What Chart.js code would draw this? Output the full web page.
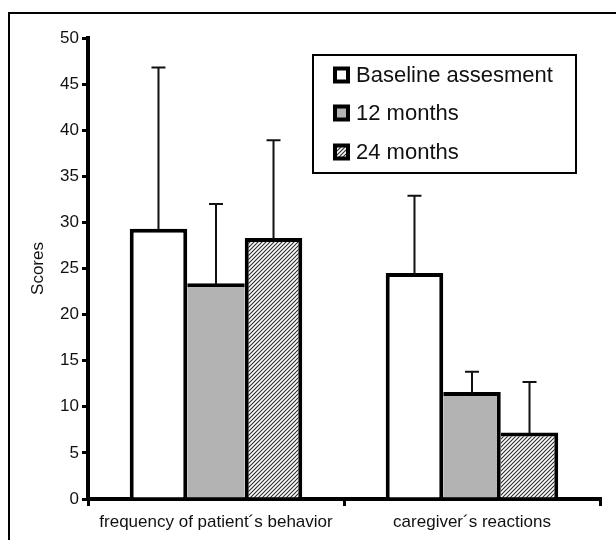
<!DOCTYPE html>
<html>
<head>
<meta charset="utf-8">
<script src="https://cdn.jsdelivr.net/npm/chart.js@4/dist/chart.umd.min.js"></script>
<style>
  html, body { margin: 0; padding: 0; background: #fff; overflow: hidden; }
  #wrap { position: relative; width: 616px; height: 540px; }
  #frame { position: absolute; left: 8px; top: 12px; width: 700px; height: 600px; border: 2px solid #000; box-sizing: border-box; }
  #c { position: absolute; left: 0; top: 0; }
</style>
</head>
<body>
<div id="wrap">
  <div id="frame"></div>
  <canvas id="c" width="616" height="540"></canvas>
</div>
<script>
// Outcome categories and the three assessment waves
const categories = ['frequency of patient\u00b4s behavior', 'caregiver\u00b4s reactions'];
const seriesNames = ['Baseline assesment', '12 months', '24 months'];

// Mean scores per wave
const baseline = [29.3, 24.5];
const months12 = [23.4, 11.6];
const months24 = [28.3, 7.2];

// Standard deviations (drawn as upper error bars)
const baselineSD = [17.5, 8.4];
const months12SD = [8.6, 2.2];
const months24SD = [10.6, 5.5];

// Y axis range
const yMin = 0, yMax = 50, yStep = 5;

const FONT = "'Liberation Sans', Arial, Helvetica, sans-serif";
const values = [baseline, months12, months24];
const errors = [baselineSD, months12SD, months24SD];

const canvas = document.getElementById('c');
const ctx2d = canvas.getContext('2d');

function makeHatch() {
  const s = 4;
  const p = document.createElement('canvas');
  p.width = s; p.height = s;
  const g = p.getContext('2d');
  g.fillStyle = '#fff';
  g.fillRect(0, 0, s, s);
  g.strokeStyle = '#2a2a2a';
  g.lineWidth = 1.1;
  g.beginPath();
  g.moveTo(0, s); g.lineTo(s, 0);
  g.moveTo(-1, 1); g.lineTo(1, -1);
  g.moveTo(s - 1, s + 1); g.lineTo(s + 1, s - 1);
  g.stroke();
  return ctx2d.createPattern(p, 'repeat');
}
const hatch = makeHatch();
const fills = ['#ffffff', '#b3b3b3', hatch];

// Shared edges between neighbouring bars are drawn once, by the taller bar
function edgeWidths(ctx) {
  const i = ctx.datasetIndex, j = ctx.dataIndex;
  const v = values[i][j];
  const prev = i > 0 ? values[i - 1][j] : -Infinity;
  const next = i < values.length - 1 ? values[i + 1][j] : -Infinity;
  return { top: 4, bottom: 0, left: v >= prev ? 4 : 0, right: v > next ? 4 : 0 };
}

const errorBars = {
  id: 'errorBars',
  afterDatasetsDraw(chart) {
    const c = chart.ctx, y = chart.scales.y;
    values.forEach((vals, i) => {
      chart.getDatasetMeta(i).data.forEach((bar, j) => {
        const base = y.getPixelForValue(vals[j]);
        const top = y.getPixelForValue(vals[j] + errors[i][j]);
        c.save();
        c.strokeStyle = '#111';
        c.lineWidth = 2;
        c.beginPath();
        c.moveTo(bar.x, base + 1);
        c.lineTo(bar.x, top);
        c.moveTo(bar.x - 7, top);
        c.lineTo(bar.x + 7, top);
        c.stroke();
        c.restore();
      });
    });
  }
};

const boxLegend = {
  id: 'boxLegend',
  afterDraw(chart) {
    const c = chart.ctx;
    c.save();
    c.strokeStyle = '#000';
    c.lineWidth = 2;
    c.strokeRect(313, 55, 263, 118);
    const rows = [75, 113, 152];
    c.font = '22px ' + FONT;
    c.textBaseline = 'middle';
    c.textAlign = 'left';
    seriesNames.forEach((name, i) => {
      const cy = rows[i];
      c.fillStyle = '#000';
      c.fillRect(333, cy - 8.5, 17, 17);
      c.fillStyle = fills[i];
      c.fillRect(337, cy - 4.5, 9, 9);
      c.fillStyle = '#111';
      c.fillText(name, 356, cy + 1);
    });
    c.restore();
  }
};

new Chart(canvas, {
  type: 'bar',
  data: {
    labels: categories,
    datasets: seriesNames.map((name, i) => ({
      label: name,
      data: values[i],
      backgroundColor: fills[i],
      borderColor: '#000',
      borderWidth: edgeWidths,
      borderSkipped: 'start',
      inflateAmount: 0,
      barPercentage: 1,
      categoryPercentage: 0.674
    }))
  },
  options: {
    responsive: false,
    animation: false,
    devicePixelRatio: 1,
    layout: { padding: { top: 38, right: 16, left: 0, bottom: 0 } },
    plugins: { legend: { display: false }, tooltip: { enabled: false } },
    scales: {
      x: {
        afterFit(scale) { scale.height = 41; },
        grid: { offset: true, drawOnChartArea: false, drawTicks: true, tickLength: 7, color: '#000', lineWidth: 3 },
        border: { display: true, color: '#000', width: 4 },
        ticks: { color: '#111', font: { family: FONT, size: 17 }, padding: 6, maxRotation: 0 }
      },
      y: {
        min: yMin, max: yMax,
        afterFit(scale) { scale.width = 88; },
        grid: { drawOnChartArea: false, drawTicks: true, tickLength: 6, color: '#000', lineWidth: 3 },
        border: { display: true, color: '#000', width: 4 },
        ticks: { stepSize: yStep, color: '#111', font: { family: FONT, size: 17 }, padding: 3 },
        title: { display: true, text: 'Scores', color: '#111', font: { family: FONT, size: 17 }, padding: { top: 28, bottom: 0 } }
      }
    }
  },
  plugins: [errorBars, boxLegend]
});
</script>
</body>
</html>
